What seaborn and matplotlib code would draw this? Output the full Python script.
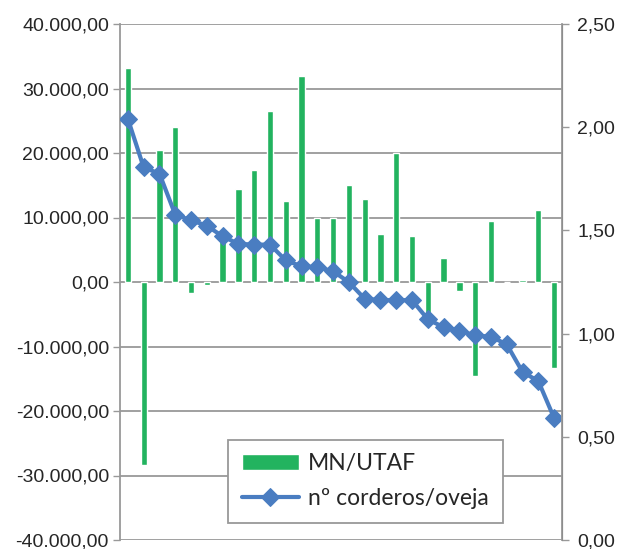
import matplotlib
matplotlib.use("Agg")
import pandas as pd
import seaborn as sns
import matplotlib.pyplot as plt
from matplotlib.ticker import FuncFormatter, MultipleLocator

# farms, sorted by lambs per ewe
farm = list(range(1, 29))
mn_utaf = [33200, -28400, 20500, 24000, -1700, -500, 7300, 14400, 17300, 26500,
           12600, 31900, 9900, 10000, 15100, 12800, 7500, 20000, 7200, -5000,
           3700, -1450, -14600, 9400, 50, 250, 11200, -13400]
corderos_oveja = [2.04, 1.805, 1.775, 1.576, 1.549, 1.523, 1.471, 1.435, 1.431, 1.431,
                  1.355, 1.326, 1.322, 1.302, 1.249, 1.169, 1.162, 1.162, 1.162, 1.069,
                  1.031, 1.015, 0.991, 0.985, 0.948, 0.814, 0.770, 0.591]

df = pd.DataFrame({'farm': farm, 'MN/UTAF': mn_utaf, 'corderos': corderos_oveja})
df['pos'] = range(len(df))

sns.set_style("white")
plt.rcParams['font.family'] = ['Liberation Sans', 'DejaVu Sans']

fig = plt.figure(figsize=(6.38, 5.49), dpi=100)
ax = fig.add_axes([120 / 638, 9 / 549, 442 / 638, 516 / 549])

green = '#22B35F'
blue = '#4A7DC1'
grey = '#999999'

sns.barplot(data=df, x='pos', y='MN/UTAF', color=green, width=0.4,
            saturation=1, ax=ax, label='MN/UTAF')
ax.set_xlim(-0.5, len(df) - 0.5)
ax.set_ylim(-40000, 40000)
ax.yaxis.set_major_locator(MultipleLocator(10000))
ax.yaxis.set_major_formatter(FuncFormatter(
    lambda v, p: f"{v:,.2f}".replace(',', 'X').replace('.', ',').replace('X', '.')))
ax.grid(axis='y', color=grey, linewidth=1.3)
ax.set_axisbelow(True)
ax.set_xticks([])
ax.set_xlabel('')
ax.set_ylabel('')
ax.tick_params(axis='y', labelsize=14, length=5, width=1, color=grey,
               left=True, pad=3)
for s in ['top', 'bottom']:
    ax.spines[s].set_visible(False)
ax.spines['left'].set_color(grey)
ax.spines['left'].set_linewidth(1.3)
if ax.get_legend() is not None:
    ax.get_legend().remove()

ax2 = ax.twinx()
sns.lineplot(data=df, x='pos', y='corderos', color=blue, linewidth=3,
             marker='D', markersize=9, markeredgecolor=blue, ax=ax2,
             label='nº corderos/oveja')
ax2.set_ylim(0, 2.5)
ax2.yaxis.set_major_locator(MultipleLocator(0.5))
ax2.yaxis.set_major_formatter(FuncFormatter(lambda v, p: f"{v:.2f}".replace('.', ',')))
ax2.set_ylabel('')
ax2.tick_params(axis='y', labelsize=14, length=5, width=1, color=grey,
                right=True, pad=6)
for s in ['top', 'bottom', 'left']:
    ax2.spines[s].set_visible(False)
ax2.spines['right'].set_color(grey)
ax2.spines['right'].set_linewidth(1.3)
ax2.get_legend().remove()

h1, l1 = ax.get_legend_handles_labels()
h2, l2 = ax2.get_legend_handles_labels()
leg = ax2.legend(h1 + h2, l1 + l2, loc='lower left',
                 bbox_to_anchor=(0.244, 0.033, 0.623, 0.155), mode='expand',
                 borderaxespad=0,
                 prop={'family': ['Lato', 'DejaVu Sans'], 'size': 16.5},
                 frameon=True, fancybox=False, edgecolor=grey, framealpha=1,
                 borderpad=0.6, handlelength=2.5, handletextpad=0.4, labelspacing=0.6)
leg.get_frame().set_linewidth(1.3)

fig.savefig('out.png', dpi=100)
